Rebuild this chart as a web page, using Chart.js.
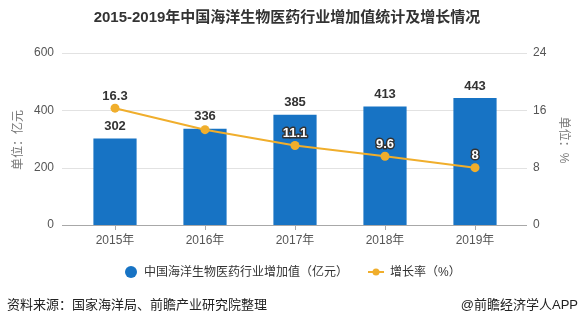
<!DOCTYPE html>
<html>
<head>
<meta charset="utf-8">
<script src="https://cdn.jsdelivr.net/npm/chart.js@4/dist/chart.umd.min.js"></script>
<style>
  html, body { margin: 0; padding: 0; background: #fff; }
  #wrap { width: 580px; height: 325px; }
</style>
</head>
<body>
<div id="wrap"><canvas id="chart" width="580" height="325"></canvas></div>
<script>
// data
const years = ['2015年', '2016年', '2017年', '2018年', '2019年'];
const addedValue = [302, 336, 385, 413, 443];      // 亿元
const growthRate = [16.3, 13.3, 11.1, 9.6, 8];     // %
const leftTicks = [0, 200, 400, 600];
const rightTicks = [0, 8, 16, 24];

const BAR_COLOR = '#1773c4';
const LINE_COLOR = '#f0ae2c';
const FONT = "'Liberation Sans', 'Noto Sans CJK SC', sans-serif";

const decorPlugin = {
    id: 'decor',
    beforeDatasetsDraw(chart) {
        const { ctx, chartArea } = chart;
        const y = chart.scales.y;
        const x = chart.scales.x;
        ctx.save();
        // horizontal grid lines, a bit wider than the plot area
        leftTicks.forEach(v => {
            const py = Math.round(y.getPixelForValue(v)) + 0.5;
            ctx.strokeStyle = v === 0 ? '#a8a8a8' : '#e2e2e2';
            ctx.lineWidth = 1;
            ctx.beginPath();
            ctx.moveTo(chartArea.left - 8, py);
            ctx.lineTo(chartArea.right + 7, py);
            ctx.stroke();
        });
        // tick marks under each category
        const base = Math.round(y.getPixelForValue(0));
        ctx.strokeStyle = '#a8a8a8';
        years.forEach((_, i) => {
            const px = Math.round(x.getPixelForValue(i)) + 0.5;
            ctx.beginPath();
            ctx.moveTo(px, base);
            ctx.lineTo(px, base + 5);
            ctx.stroke();
        });
        ctx.restore();
    },
    afterDatasetsDraw(chart) {
        const { ctx } = chart;
        const bars = chart.getDatasetMeta(0).data;
        const points = chart.getDatasetMeta(1).data;
        ctx.save();
        ctx.textAlign = 'center';
        ctx.textBaseline = 'middle';
        ctx.font = 'bold 13px ' + FONT;

        // bar value labels
        const barBoxes = bars.map((b, i) => {
            const ly = b.y - 12;
            ctx.fillStyle = '#333';
            ctx.fillText(String(addedValue[i]), b.x, ly);
            return { x: b.x, y: ly };
        });

        // growth-rate labels, skipped when they collide with a bar label
        points.forEach((p, i) => {
            const ly = p.y - 12;
            const clash = barBoxes.some(bb => Math.abs(bb.x - p.x) < 20 && Math.abs(bb.y - ly) < 12);
            if (clash) return;
            const bar = bars[i];
            const inside = ly > bar.y && Math.abs(p.x - bar.x) < bar.width / 2;
            const txt = String(growthRate[i]);
            if (inside) {
                ctx.lineWidth = 3;
                ctx.lineJoin = 'round';
                ctx.strokeStyle = '#333';
                ctx.strokeText(txt, p.x, ly);
                ctx.fillStyle = '#fff';
            } else {
                ctx.fillStyle = '#333';
            }
            ctx.fillText(txt, p.x, ly);
        });
        ctx.restore();
    },
    afterDraw(chart) {
        const { ctx, width } = chart;
        ctx.save();

        // title
        ctx.fillStyle = '#333';
        ctx.font = 'bold 15px ' + FONT;
        ctx.textAlign = 'center';
        ctx.textBaseline = 'middle';
        ctx.fillText('2015-2019年中国海洋生物医药行业增加值统计及增长情况', 287, 18);

        // axis titles
        ctx.font = '12px ' + FONT;
        ctx.fillStyle = '#777';
        ctx.save();
        ctx.translate(19, 140);
        ctx.rotate(-Math.PI / 2);
        ctx.fillText('单位：亿元', 0, 0);
        ctx.restore();
        ctx.save();
        ctx.translate(563, 140);
        ctx.rotate(Math.PI / 2);
        ctx.fillText('单位：%', 0, 0);
        ctx.restore();

        // legend
        const ly = 272;
        ctx.fillStyle = BAR_COLOR;
        ctx.beginPath();
        ctx.arc(131, ly, 6, 0, Math.PI * 2);
        ctx.fill();
        ctx.strokeStyle = LINE_COLOR;
        ctx.lineWidth = 2;
        ctx.beginPath();
        ctx.moveTo(368, ly);
        ctx.lineTo(384, ly);
        ctx.stroke();
        ctx.fillStyle = LINE_COLOR;
        ctx.beginPath();
        ctx.arc(376, ly, 3.5, 0, Math.PI * 2);
        ctx.fill();
        ctx.fillStyle = '#333';
        ctx.font = '12px ' + FONT;
        ctx.textAlign = 'left';
        ctx.fillText('中国海洋生物医药行业增加值（亿元）', 144, ly + 1);
        ctx.fillText('增长率（%）', 390, ly + 1);

        // source line
        ctx.font = '13px ' + FONT;
        ctx.fillStyle = '#222';
        ctx.fillText('资料来源：国家海洋局、前瞻产业研究院整理', 7, 305);
        ctx.textAlign = 'right';
        ctx.fillText('@前瞻经济学人APP', width - 2, 305);
        ctx.restore();
    }
};

new Chart(document.getElementById('chart'), {
    data: {
        labels: years,
        datasets: [
            {
                type: 'bar',
                label: '中国海洋生物医药行业增加值（亿元）',
                data: addedValue,
                backgroundColor: BAR_COLOR,
                yAxisID: 'y',
                categoryPercentage: 1,
                barPercentage: 0.48,
                order: 2
            },
            {
                type: 'line',
                label: '增长率（%）',
                data: growthRate,
                borderColor: LINE_COLOR,
                backgroundColor: LINE_COLOR,
                borderWidth: 2,
                pointRadius: 4.5,
                pointBackgroundColor: LINE_COLOR,
                pointBorderWidth: 0,
                tension: 0,
                yAxisID: 'y1',
                order: 1
            }
        ]
    },
    options: {
        responsive: false,
        devicePixelRatio: 1,
        animation: false,
        layout: { padding: { top: 53, left: 0, right: 0, bottom: 0 } },
        plugins: {
            legend: { display: false },
            title: { display: false },
            tooltip: { enabled: false }
        },
        scales: {
            x: {
                type: 'category',
                offset: true,
                grid: { display: false, drawTicks: false },
                border: { display: false },
                ticks: { color: '#555', font: { size: 12, family: FONT }, padding: 8 },
                afterFit(scale) { scale.height = 100; }
            },
            y: {
                position: 'left',
                min: 0,
                max: 600,
                afterBuildTicks(scale) { scale.ticks = leftTicks.map(v => ({ value: v })); },
                grid: { display: false, drawTicks: false },
                border: { display: false },
                ticks: { color: '#555', font: { size: 12, family: FONT }, padding: 16 },
                afterFit(scale) { scale.width = 70; }
            },
            y1: {
                position: 'right',
                min: 0,
                max: 24,
                afterBuildTicks(scale) { scale.ticks = rightTicks.map(v => ({ value: v })); },
                grid: { display: false, drawTicks: false },
                border: { display: false },
                ticks: { color: '#555', font: { size: 12, family: FONT }, padding: 13 },
                afterFit(scale) { scale.width = 60; }
            }
        }
    },
    plugins: [decorPlugin]
});
</script>
</body>
</html>
